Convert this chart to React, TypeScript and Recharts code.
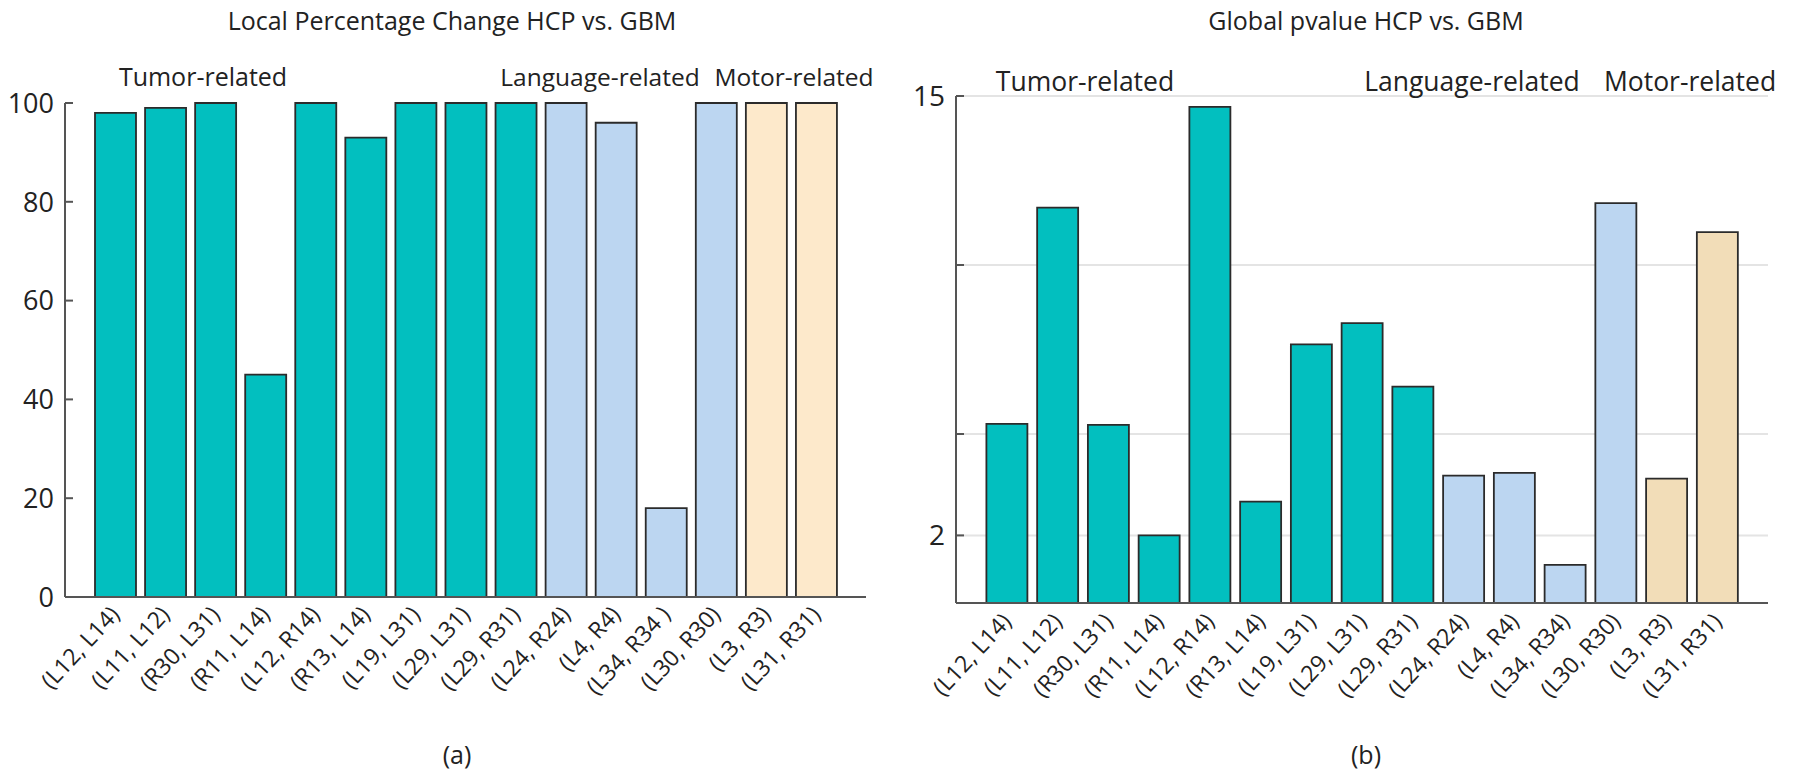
import React from 'react';
import { BarChart, Bar, XAxis, YAxis, Cell, CartesianGrid } from 'recharts';

// ---- data ----
const pairsLocal = ['(L12, L14)', '(L11, L12)', '(R30, L31)', '(R11, L14)', '(L12, R14)', '(R13, L14)', '(L19, L31)', '(L29, L31)', '(L29, R31)', '(L24, R24)', '(L4, R4)', '(L34, R34 )', '(L30, R30)', '(L3, R3)', '(L31, R31)'];
const pairsGlobal = ['(L12, L14)', '(L11, L12)', '(R30, L31)', '(R11, L14)', '(L12, R14)', '(R13, L14)', '(L19, L31)', '(L29, L31)', '(L29, R31)', '(L24, R24)', '(L4, R4)', '(L34, R34)', '(L30, R30)', '(L3, R3)', '(L31, R31)'];
const groups = ['tumor', 'tumor', 'tumor', 'tumor', 'tumor', 'tumor', 'tumor', 'tumor', 'tumor', 'language', 'language', 'language', 'language', 'motor', 'motor'];
const localChange = [98, 99, 100, 45, 100, 93, 100, 100, 100, 100, 96, 18, 100, 100, 100];
const globalPvalue = [5.3, 11.7, 5.27, 2.0, 14.68, 3.0, 7.65, 8.28, 6.4, 3.77, 3.85, 1.13, 11.83, 3.68, 10.97];
const localTicks = [0, 20, 40, 60, 80, 100];
const globalTicks = [2, 5, 10, 15];
const globalTickLabels = ['2', '', '', '15'];
const groupLabels = ['Tumor-related', 'Language-related', 'Motor-related'];

const colorsLeft: Record<string, string> = { tumor: '#02BFBF', language: '#BCD6F1', motor: '#FDE9CB' };
const colorsRight: Record<string, string> = { tumor: '#02BFBF', language: '#BCD6F1', motor: '#F2DDB8' };

const localData = pairsLocal.map((p, i) => ({ pair: p, value: localChange[i], group: groups[i] }));
const globalData = pairsGlobal.map((p, i) => ({ pair: p, value: globalPvalue[i], group: groups[i] }));

const FONT = '"Open Sans", sans-serif';
const AXIS = '#555555';
const TXT = '#222222';

const makeYTick = (labels: Record<number, string> | null, fs: number) => (props: any) => {
  const { x, y, payload } = props;
  const ax = x + 11;
  const lab = labels ? labels[payload.value] : String(payload.value);
  return (
    <g>
      <line x1={ax} x2={ax + 8} y1={y} y2={y} stroke={AXIS} strokeWidth={2} />
      {lab ? (
        <text x={x} y={y} dy="0.36em" textAnchor="end" fontFamily={FONT} fontSize={fs} fill={TXT}>{lab}</text>
      ) : null}
    </g>
  );
};

const makeXTick = (fs: number) => (props: any) => {
  const { x, y, payload } = props;
  return (
    <g transform={`translate(${x},${y})`}>
      <text transform="rotate(-47)" textAnchor="end" dy="0.35em" fontFamily={FONT} fontSize={fs} fill={TXT}>{payload.value}</text>
    </g>
  );
};

const globalLabelMap: Record<number, string> = {};
globalTicks.forEach((t, i) => { globalLabelMap[t] = globalTickLabels[i]; });

export default function App() {
  return (
    <div style={{ position: 'absolute', left: 0, top: 0, width: 1800, height: 784, background: '#fff' }}>
      <div style={{ position: 'absolute', left: 0, top: 0 }}>
        <BarChart width={900} height={784} data={localData} margin={{ top: 103, right: 34, bottom: 37, left: 0 }}>
          <XAxis dataKey="pair" interval={0} height={150} padding={{ left: 25, right: 25 }} axisLine={{ stroke: AXIS, strokeWidth: 2 }} tickLine={false} tickSize={0} tickMargin={13} tick={makeXTick(23)} />
          <YAxis type="number" domain={[0, 100]} ticks={localTicks} width={65} axisLine={{ stroke: AXIS, strokeWidth: 2 }} tickLine={false} tickSize={0} tickMargin={11} tick={makeYTick(null, 27)} />
          <Bar dataKey="value" barSize={41} stroke="#2b2b2b" strokeWidth={1.8} isAnimationActive={false}>
            {localData.map((d, i) => <Cell key={i} fill={colorsLeft[d.group]} />)}
          </Bar>
        </BarChart>
      </div>
      <div style={{ position: 'absolute', left: 900, top: 0 }}>
        <BarChart width={900} height={784} data={globalData} margin={{ top: 96, right: 32, bottom: 31, left: 0 }}>
          <CartesianGrid vertical={false} stroke="#e4e4e4" strokeWidth={2} />
          <XAxis dataKey="pair" interval={0} height={150} padding={{ left: 25.4, right: 25.4 }} axisLine={{ stroke: AXIS, strokeWidth: 2 }} tickLine={false} tickSize={0} tickMargin={14} tick={makeXTick(23)} />
          <YAxis type="number" domain={[0, 15]} ticks={globalTicks} width={56} axisLine={{ stroke: AXIS, strokeWidth: 2 }} tickLine={false} tickSize={0} tickMargin={11} tick={makeYTick(globalLabelMap, 28)} />
          <Bar dataKey="value" barSize={41} stroke="#2b2b2b" strokeWidth={1.8} isAnimationActive={false}>
            {globalData.map((d, i) => <Cell key={i} fill={colorsRight[d.group]} />)}
          </Bar>
        </BarChart>
      </div>
      <svg width={1800} height={784} style={{ position: 'absolute', left: 0, top: 0, pointerEvents: 'none' }}>
        <g fontFamily={FONT} fill={TXT}>
          <text x={452} y={30} textAnchor="middle" fontSize={25}>Local Percentage Change HCP vs. GBM</text>
          <text x={1366} y={30} textAnchor="middle" fontSize={25}>Global pvalue HCP vs. GBM</text>
          <text x={203} y={86} textAnchor="middle" fontSize={25}>{groupLabels[0]}</text>
          <text x={600} y={86} textAnchor="middle" fontSize={24.5}>{groupLabels[1]}</text>
          <text x={794} y={86} textAnchor="middle" fontSize={24.5}>{groupLabels[2]}</text>
          <text x={1085} y={91} textAnchor="middle" fontSize={26.5}>{groupLabels[0]}</text>
          <text x={1472} y={91} textAnchor="middle" fontSize={26.5}>{groupLabels[1]}</text>
          <text x={1690} y={91} textAnchor="middle" fontSize={26.5}>{groupLabels[2]}</text>
          <text x={457} y={764} textAnchor="middle" fontSize={25}>(a)</text>
          <text x={1366} y={764} textAnchor="middle" fontSize={25}>(b)</text>
        </g>
      </svg>
    </div>
  );
}
